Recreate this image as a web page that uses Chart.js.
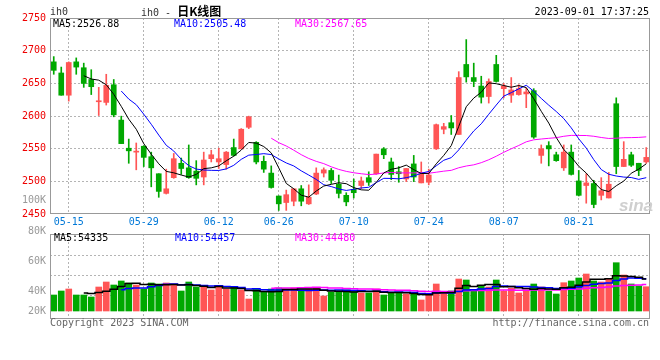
<!DOCTYPE html>
<html>
<head>
<meta charset="utf-8">
<script src="https://cdn.jsdelivr.net/npm/chart.js@4.4.0/dist/chart.umd.min.js"></script>
<style>
  body { margin: 0; background: #fff; }
  #wrap { position: relative; width: 660px; height: 360px; font-family: "DejaVu Sans Mono", monospace; font-size: 10px; }
  #priceBox { position: absolute; left: 0; top: 0; width: 660px; height: 230px; }
  #volBox { position: absolute; left: 0; top: 230px; width: 660px; height: 100px; }
  .t { position: absolute; white-space: pre; line-height: 10px; }
  .gray { color: #999; }
</style>
</head>
<body>
<div id="wrap">
  <div id="priceBox"><canvas id="priceChart" width="660" height="230"></canvas></div>
  <div id="volBox"><canvas id="volChart" width="660" height="100"></canvas></div>

  <div class="t" style="left:50px;top:7px;color:#333">ih0</div>
  <div class="t" style="left:141px;top:6px;color:#333">ih0 - <span style="font-family:'Noto Sans CJK SC';font-weight:bold;font-size:12px;color:#000">日K线图</span></div>
  <div class="t" style="right:11px;top:7px;color:#000">2023-09-01 17:37:25</div>

  <div class="t" style="left:53px;top:19px;color:#000">MA5:2526.88</div>
  <div class="t" style="left:174px;top:19px;color:#0000ff">MA10:2505.48</div>
  <div class="t" style="left:295px;top:19px;color:#ff00ff">MA30:2567.65</div>

  <div class="t" style="left:619px;top:196px;font:italic bold 17px 'Liberation Sans';color:#cfcfcf">sina</div>

  <div class="t gray" style="right:614px;top:195px">100K</div>
  <div class="t gray" style="right:614px;top:226px">80K</div>
  <div class="t gray" style="right:614px;top:256px">60K</div>
  <div class="t gray" style="right:614px;top:286px">40K</div>
  <div class="t gray" style="right:614px;top:306px">20K</div>

  <div class="t" style="left:54px;top:233px;color:#000">MA5:54335</div>
  <div class="t" style="left:175px;top:233px;color:#0000ff">MA10:54457</div>
  <div class="t" style="left:295px;top:233px;color:#ff00ff">MA30:44480</div>

  <div class="t" style="left:50px;top:318px;color:#666">Copyright 2023 SINA.COM</div>
  <div class="t" style="right:11px;top:318px;color:#666">http://finance.sina.com.cn</div>
</div>

<script>
// trading days 2023-05-11 .. 2023-09-01
const dates = [
  "05-11", "05-12", "05-15", "05-16", "05-17", "05-18", "05-19", "05-22", "05-23", "05-24",
  "05-25", "05-26", "05-29", "05-30", "05-31", "06-01", "06-02", "06-05", "06-06", "06-07",
  "06-08", "06-09", "06-12", "06-13", "06-14", "06-15", "06-16", "06-19", "06-20", "06-21",
  "06-26", "06-27", "06-28", "06-29", "06-30", "07-03", "07-04", "07-05", "07-06", "07-07",
  "07-10", "07-11", "07-12", "07-13", "07-14", "07-17", "07-18", "07-19", "07-20", "07-21",
  "07-24", "07-25", "07-26", "07-27", "07-28", "07-31", "08-01", "08-02", "08-03", "08-04",
  "08-07", "08-08", "08-09", "08-10", "08-11", "08-14", "08-15", "08-16", "08-17", "08-18",
  "08-21", "08-22", "08-23", "08-24", "08-25", "08-28", "08-29", "08-30", "08-31", "09-01",
];

const opens = [
  2683, 2666, 2632, 2683, 2674, 2656, 2622, 2621, 2648, 2594,
  2551, 2545, 2554, 2538, 2512, 2482, 2506, 2528, 2521, 2516,
  2507, 2535, 2530, 2526, 2552, 2550, 2583, 2560, 2531, 2513,
  2478, 2468, 2470, 2489, 2466, 2481, 2513, 2517, 2496, 2479,
  2488, 2494, 2506, 2512, 2550, 2530, 2515, 2504, 2527, 2498,
  2499, 2550, 2580, 2590, 2572, 2679, 2659, 2646, 2630, 2679,
  2642, 2632, 2633, 2634, 2639, 2540, 2555, 2541, 2521, 2545,
  2501, 2494, 2497, 2479, 2475, 2619, 2523, 2541, 2528, 2530,
];
const highs = [
  2691, 2675, 2683, 2689, 2681, 2671, 2644, 2664, 2656, 2600,
  2565, 2559, 2555, 2545, 2512, 2519, 2543, 2536, 2556, 2532,
  2545, 2548, 2551, 2546, 2565, 2581, 2600, 2561, 2539, 2524,
  2478, 2487, 2489, 2494, 2495, 2521, 2521, 2520, 2510, 2483,
  2504, 2507, 2515, 2542, 2552, 2536, 2523, 2520, 2540, 2530,
  2519, 2588, 2589, 2601, 2668, 2717, 2681, 2661, 2657, 2693,
  2650, 2659, 2648, 2643, 2642, 2556, 2561, 2545, 2556, 2556,
  2517, 2512, 2502, 2506, 2514, 2628, 2561, 2545, 2528, 2552,
];
const lows = [
  2664, 2632, 2623, 2664, 2644, 2633, 2601, 2617, 2599, 2558,
  2528, 2518, 2523, 2492, 2476, 2481, 2505, 2511, 2505, 2495,
  2495, 2530, 2520, 2519, 2539, 2550, 2581, 2527, 2514, 2490,
  2456, 2456, 2463, 2463, 2465, 2480, 2507, 2497, 2475, 2463,
  2475, 2489, 2494, 2511, 2535, 2503, 2499, 2500, 2500, 2498,
  2495, 2549, 2573, 2572, 2572, 2652, 2645, 2620, 2620, 2652,
  2628, 2621, 2632, 2613, 2566, 2528, 2524, 2531, 2517, 2510,
  2478, 2467, 2460, 2472, 2475, 2512, 2523, 2523, 2509, 2528,
];
const closes = [
  2670, 2632, 2682, 2675, 2650, 2645, 2623, 2647, 2602, 2558,
  2547, 2546, 2537, 2521, 2485, 2489, 2535, 2520, 2506, 2505,
  2533, 2541, 2535, 2545, 2540, 2580, 2599, 2530, 2519, 2491,
  2466, 2480, 2489, 2470, 2476, 2513, 2518, 2502, 2482, 2469,
  2483, 2501, 2499, 2542, 2541, 2511, 2512, 2520, 2507, 2512,
  2510, 2587, 2584, 2582, 2659, 2660, 2653, 2629, 2653, 2653,
  2646, 2640, 2642, 2637, 2568, 2550, 2550, 2532, 2545, 2511,
  2479, 2498, 2465, 2486, 2496, 2523, 2534, 2525, 2517, 2537,
];
const volumes = [
  36000, 40000, 42000, 36000, 36000, 34000, 44000, 49000, 46000, 50000,
  48000, 46000, 42000, 48000, 47000, 48000, 47000, 40000, 49000, 44000,
  44000, 41000, 44000, 42000, 44000, 41000, 32000, 42000, 39000, 42000,
  43000, 41000, 43000, 41000, 42000, 43000, 35000, 39000, 40000, 41000,
  40000, 38000, 38000, 42000, 36000, 38000, 38000, 37000, 38000, 31000,
  37000, 47000, 38000, 40000, 52000, 51000, 41000, 45000, 44000, 51000,
  40000, 43000, 38000, 41000, 47000, 44000, 40000, 37000, 48300, 50000,
  53000, 57000, 50000, 49000, 52000, 68300, 56000, 47000, 45000, 44300,
];

const gridDates = ["05-15", "05-29", "06-12", "06-26", "07-10", "07-24", "08-07", "08-21"];
const priceTicks = [2450, 2500, 2550, 2600, 2650, 2700, 2750];
const priceMin = 2452;
const priceMax = 2750;
const volGrid = [36000, 56000, 76000];
const volBase = 20000;
const volMin = 13000;
const volMax = 97000;

const RED = "#ff5555";
const GREEN = "#00a800";
const GRID = "#b4b4b4";
const MONO = "DejaVu Sans Mono";

const candleColors = closes.map((c, i) => (c >= opens[i] ? RED : GREEN));

function movingAvg(values, n) {
  return values.map((v, i) => {
    if (i < n - 1) return null;
    let sum = 0;
    for (let k = i - n + 1; k <= i; k++) sum += values[k];
    return sum / n;
  });
}

// box round the plot area
const frame = {
  id: "frame",
  afterDraw(chart) {
    const { ctx, chartArea: a } = chart;
    ctx.save();
    ctx.strokeStyle = "#999";
    ctx.lineWidth = 1;
    ctx.strokeRect(a.left + 0.5, a.top + 0.5, a.right - a.left - 1, a.bottom - a.top);
    ctx.restore();
  },
};

function dateGridTicks(axis) {
  axis.ticks = gridDates.map((d) => ({ value: dates.indexOf(d) }));
}

function maLine(label, data, color, width, stepped) {
  return {
    type: "line",
    label: label,
    data: data,
    borderColor: color,
    borderWidth: width,
    pointRadius: 0,
    tension: 0,
    stepped: stepped,
    order: 0,
  };
}

// Price (candlestick) chart
new Chart(document.getElementById("priceChart"), {
  type: "bar",
  data: {
    labels: dates,
    datasets: [
      maLine("MA5", movingAvg(closes, 5), "#000000", 1, false),
      maLine("MA10", movingAvg(closes, 10), "#0000ff", 1, false),
      maLine("MA30", movingAvg(closes, 30), "#ff00ff", 1, false),
      {
        label: "body",
        data: dates.map((d, i) => [opens[i], closes[i]]),
        backgroundColor: candleColors,
        barThickness: 5,
        minBarLength: 1,
        grouped: false,
        order: 1,
      },
      {
        label: "wick",
        data: dates.map((d, i) => [lows[i], highs[i]]),
        backgroundColor: candleColors,
        barThickness: 1,
        grouped: false,
        order: 2,
      },
    ],
  },
  options: {
    responsive: false,
    animation: false,
    devicePixelRatio: 1,
    layout: { padding: { left: 0, right: 10, top: 18, bottom: 0 } },
    plugins: { legend: { display: false }, tooltip: { enabled: false } },
    scales: {
      x: {
        offset: true,
        afterBuildTicks: dateGridTicks,
        afterFit: (s) => { s.height = 17; },
        grid: { offset: false, color: GRID, drawTicks: false },
        border: { display: false, dash: [2, 2] },
        ticks: {
          autoSkip: false,
          maxRotation: 0,
          padding: 3,
          color: "#0078d7",
          font: { family: MONO, size: 10 },
        },
      },
      y: {
        min: priceMin,
        max: priceMax,
        afterBuildTicks: (axis) => { axis.ticks = priceTicks.map((v) => ({ value: v })); },
        afterFit: (s) => { s.width = 50; },
        grid: {
          color: (ctx) => (ctx.tick && ctx.tick.value > priceMin && ctx.tick.value < priceMax ? GRID : "transparent"),
          drawTicks: false,
        },
        border: { display: false, dash: [2, 2] },
        ticks: {
          color: "#ee0000",
          padding: 4,
          font: { family: MONO, size: 10 },
          callback: (value) => String(value),
        },
      },
    },
  },
  plugins: [frame],
});

// Volume chart
new Chart(document.getElementById("volChart"), {
  type: "bar",
  data: {
    labels: dates,
    datasets: [
      maLine("MA5", movingAvg(volumes, 5), "#000000", 1.5, "middle"),
      maLine("MA10", movingAvg(volumes, 10), "#0000ff", 1.5, "middle"),
      maLine("MA30", movingAvg(volumes, 30), "#ff00ff", 1.5, "middle"),
      {
        label: "volume",
        data: volumes,
        base: volBase,
        backgroundColor: candleColors,
        barThickness: 6,
        grouped: false,
        order: 1,
      },
    ],
  },
  options: {
    responsive: false,
    animation: false,
    devicePixelRatio: 1,
    layout: { padding: { left: 50, right: 10, top: 4, bottom: 12 } },
    plugins: { legend: { display: false }, tooltip: { enabled: false } },
    scales: {
      x: {
        offset: true,
        afterBuildTicks: dateGridTicks,
        afterFit: (s) => { s.height = 0; },
        grid: { offset: false, color: GRID, drawTicks: false },
        border: { display: false, dash: [2, 2] },
        ticks: { display: false },
      },
      y: {
        min: volMin,
        max: volMax,
        afterBuildTicks: (axis) => { axis.ticks = volGrid.map((v) => ({ value: v })); },
        afterFit: (s) => { s.width = 0; },
        grid: { color: GRID, drawTicks: false },
        border: { display: false, dash: [2, 2] },
        ticks: { display: false },
      },
    },
  },
  plugins: [frame],
});
</script>
</body>
</html>
